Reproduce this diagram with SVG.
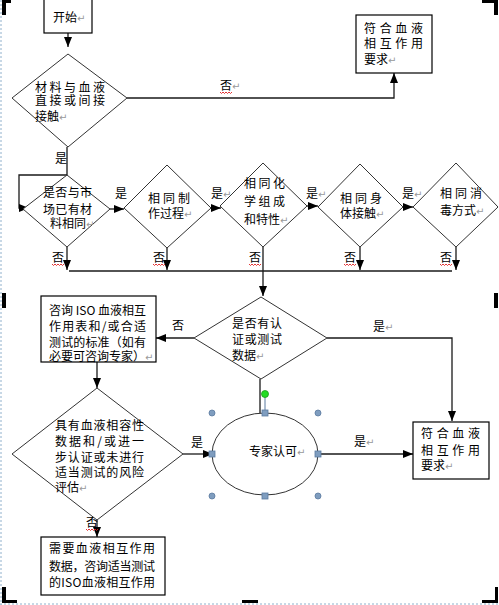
<svg xmlns="http://www.w3.org/2000/svg" width="499" height="605" viewBox="0 0 499 605">
<style>
text{font-family:"Noto Sans CJK SC","Noto Sans",sans-serif;font-size:12px;fill:#000}
.r{fill:#999;font-size:10px;font-family:"DejaVu Sans",sans-serif}
.shape{fill:#fff;stroke:#333;stroke-width:1}
.box{fill:#fff;stroke:#000;stroke-width:1.2}
.ln{fill:none;stroke:#1a1a1a;stroke-width:1.3}
.wave{fill:none;stroke:#e02020;stroke-width:0.9}
.hc{fill:#7f9dbf;stroke:#5a7aa0;stroke-width:0.8}
.mk{fill:#000}
</style>
<defs>
<marker id="ah" markerUnits="userSpaceOnUse" markerWidth="10" markerHeight="10" viewBox="0 0 10 10" refX="10" refY="5" orient="auto">
<path d="M0,1 L10,5 L0,9 Z" fill="#000"/>
</marker>
</defs>
<rect width="499" height="605" fill="#fff"/>
<!-- page marks -->
<g id="page">
<line x1="1" y1="0" x2="1" y2="605" stroke="#8fb0cc" stroke-width="1" stroke-dasharray="2,2"/>
<line x1="0" y1="604" x2="499" y2="604" stroke="#8fb0cc" stroke-width="1" stroke-dasharray="2,2"/>
<rect class="mk" x="2" y="0" width="9" height="3"/><rect class="mk" x="2" y="0" width="4" height="15"/>
<rect class="mk" x="482" y="0" width="16" height="3"/><rect class="mk" x="494" y="0" width="4" height="15"/>
<rect class="mk" x="2" y="293" width="4" height="15"/><rect class="mk" x="494" y="293" width="4" height="15"/>
<rect class="mk" x="2" y="587" width="4" height="16"/><rect class="mk" x="2" y="600" width="15" height="3"/>
<rect class="mk" x="495" y="587" width="3" height="16"/><rect class="mk" x="482" y="600" width="16" height="3"/>
<rect class="mk" x="242" y="600" width="16" height="3"/>
</g>
<!-- connectors -->
<g id="connectors">
<path class="ln" d="M68,33 V47" marker-end="url(#ah)"/>
<path class="ln" d="M127,98 H394 V73" marker-end="url(#ah)"/>
<path class="ln" d="M67,147 V175 H19 V208 H29" marker-end="url(#ah)"/>
<path class="ln" d="M110,209 H124" marker-end="url(#ah)"/>
<path class="ln" d="M211,208 H221" marker-end="url(#ah)"/>
<path class="ln" d="M307,206 H318" marker-end="url(#ah)"/>
<path class="ln" d="M403,207 H413" marker-end="url(#ah)"/>
<path class="ln" d="M67,247 V270" marker-end="url(#ah)"/>
<path class="ln" d="M167,248 V270" marker-end="url(#ah)"/>
<path class="ln" d="M360,247 V270" marker-end="url(#ah)"/>
<path class="ln" d="M456,247 V270" marker-end="url(#ah)"/>
<path class="ln" d="M69,271 H452"/>
<path class="ln" d="M263,247 V296" marker-end="url(#ah)"/>
<path class="ln" d="M194,338 H156" marker-end="url(#ah)"/>
<path class="ln" d="M327,338 H452 V421" marker-end="url(#ah)"/>
<path class="ln" d="M260,379 V413"/>
<path class="ln" d="M97,362 V388" marker-end="url(#ah)"/>
<path class="ln" d="M183,454 H213" marker-end="url(#ah)"/>
<path class="ln" d="M97,520 V537" marker-end="url(#ah)"/>
<path class="ln" d="M318,454 H413" marker-end="url(#ah)"/>
</g>
<!-- labels on connectors -->
<g id="labels">
<text x="220" y="89.5">否<tspan class="r">↵</tspan></text>
<path class="wave" d="M220,92 l1.5,1.5 l1.5,-1.5 l1.5,1.5 l1.5,-1.5 l1.5,1.5 l1.5,-1.5 l1.5,1.5 l1.5,-1.5"/>
<text x="55" y="162.5">是</text>
<text x="115" y="197.5">是</text>
<text x="211" y="197.5">是<tspan class="r">↵</tspan></text>
<text x="306" y="197.5">是<tspan class="r">↵</tspan></text>
<text x="402" y="197.5">是<tspan class="r">↵</tspan></text>
<text x="52" y="261.5">否</text>
<text x="153" y="261.5">否</text>
<text x="249" y="261.5">否</text>
<text x="344" y="261.5">否</text>
<text x="440" y="261.5">否</text>
<path class="wave" d="M52,264 l1.5,1.5 l1.5,-1.5 l1.5,1.5 l1.5,-1.5 l1.5,1.5 l1.5,-1.5 l1.5,1.5 l1.5,-1.5"/>
<path class="wave" d="M153,264 l1.5,1.5 l1.5,-1.5 l1.5,1.5 l1.5,-1.5 l1.5,1.5 l1.5,-1.5 l1.5,1.5 l1.5,-1.5"/>
<path class="wave" d="M249,264 l1.5,1.5 l1.5,-1.5 l1.5,1.5 l1.5,-1.5 l1.5,1.5 l1.5,-1.5 l1.5,1.5 l1.5,-1.5"/>
<path class="wave" d="M344,264 l1.5,1.5 l1.5,-1.5 l1.5,1.5 l1.5,-1.5 l1.5,1.5 l1.5,-1.5 l1.5,1.5 l1.5,-1.5"/>
<path class="wave" d="M440,264 l1.5,1.5 l1.5,-1.5 l1.5,1.5 l1.5,-1.5 l1.5,1.5 l1.5,-1.5 l1.5,1.5 l1.5,-1.5"/>
<text x="172" y="329.5">否</text>
<text x="373" y="330.5">是<tspan class="r">↵</tspan></text>
<text x="191" y="446.5">是</text>
<text x="354" y="445.5">是<tspan class="r">↵</tspan></text>
<text x="86" y="526.5">否</text>
<path class="wave" d="M86,529 l1.5,1.5 l1.5,-1.5 l1.5,1.5 l1.5,-1.5 l1.5,1.5 l1.5,-1.5 l1.5,1.5 l1.5,-1.5"/>
</g>
<!-- nodes -->
<g id="start">
<rect class="box" x="44" y="-1" width="48" height="34"/>
<text x="53" y="22">开始<tspan class="r">↵</tspan></text>
</g>
<g id="d1">
<polygon class="shape" points="68,54 127,98 68,147 12,98"/>
<text x="35" y="91.5" textLength="70" lengthAdjust="spacing">材料与血液</text>
<text x="35" y="105" textLength="70" lengthAdjust="spacing">直接或间接</text>
<text x="35" y="120.5">接触<tspan class="r">↵</tspan></text>
</g>
<g id="ok1">
<rect class="box" x="356" y="15" width="76" height="58"/>
<text x="364" y="32.5" textLength="59" lengthAdjust="spacing">符合血液</text>
<text x="364" y="47.5" textLength="59" lengthAdjust="spacing">相互作用</text>
<text x="364" y="63.5">要求<tspan class="r">↵</tspan></text>
</g>
<g id="d2">
<polygon class="shape" points="67,175 110,209 67,247 23,209"/>
<text x="43" y="196.5" textLength="49" lengthAdjust="spacing">是否与市</text>
<text x="43" y="213.5" textLength="49" lengthAdjust="spacing">场已有材</text>
<text x="50" y="227.5">料相同<tspan class="r">↵</tspan></text>
</g>
<g id="d3">
<polygon class="shape" points="167,165 211,208 167,248 124,208"/>
<text x="148" y="202.5" textLength="42" lengthAdjust="spacing">相同制</text>
<text x="148" y="217.5">作过程<tspan class="r">↵</tspan></text>
</g>
<g id="d4">
<polygon class="shape" points="263,163 307,206 263,247 220,206"/>
<text x="244" y="187.5" textLength="41" lengthAdjust="spacing">相同化</text>
<text x="244" y="205.5" textLength="41" lengthAdjust="spacing">学组成</text>
<text x="244" y="224">和特性<tspan class="r">↵</tspan></text>
</g>
<g id="d5">
<polygon class="shape" points="360,164 403,207 360,247 318,207"/>
<text x="340" y="202.5" textLength="42" lengthAdjust="spacing">相同身</text>
<text x="340" y="217.5">体接触<tspan class="r">↵</tspan></text>
</g>
<g id="d6">
<polygon class="shape" points="456,163 498,207 456,247 413,207"/>
<text x="440" y="197.5" textLength="42" lengthAdjust="spacing">相同消</text>
<text x="440" y="214.5">毒方式<tspan class="r">↵</tspan></text>
</g>
<g id="d7">
<polygon class="shape" points="261,297 327,338 261,379 194,338"/>
<text x="232" y="327.5" textLength="50" lengthAdjust="spacing">是否有认</text>
<text x="232" y="343.5" textLength="50" lengthAdjust="spacing">证或测试</text>
<text x="232" y="359.5">数据<tspan class="r">↵</tspan></text>
</g>
<g id="iso">
<rect class="box" x="41" y="296" width="115" height="66"/>
<text x="49" y="314.5" textLength="97" lengthAdjust="spacing">咨询 ISO 血液相互</text>
<text x="49" y="331" textLength="97" lengthAdjust="spacing">作用表和/或合适</text>
<text x="49" y="346.5" textLength="97" lengthAdjust="spacing">测试的标准（如有</text>
<text x="49" y="361">必要可咨询专家）<tspan class="r">↵</tspan></text>
</g>
<g id="d8">
<polygon class="shape" points="97,388 183,454 97,520 12,454"/>
<text x="55" y="429.5" textLength="89" lengthAdjust="spacing">具有血液相容性</text>
<text x="55" y="445.5" textLength="89" lengthAdjust="spacing">数据和/或进一</text>
<text x="55" y="461.5" textLength="89" lengthAdjust="spacing">步认证或未进行</text>
<text x="55" y="476.5" textLength="89" lengthAdjust="spacing">适当测试的风险</text>
<text x="55" y="491.5">评估<tspan class="r">↵</tspan></text>
</g>
<g id="need">
<rect class="box" x="41" y="537" width="124" height="58"/>
<text x="49" y="552.5" textLength="106" lengthAdjust="spacing">需要血液相互作用</text>
<text x="49" y="570.5" textLength="106" lengthAdjust="spacing">数据，咨询适当测试</text>
<text x="49" y="586.5" textLength="106" lengthAdjust="spacing">的ISO血液相互作用</text>
</g>
<g id="expert">
<ellipse class="shape" cx="265" cy="454" rx="53" ry="41"/>
<text x="249" y="455.5">专家认可<tspan class="r">↵</tspan></text>
<line x1="265" y1="394" x2="265" y2="413" stroke="#5a7aa0" stroke-width="1"/>
<circle cx="265" cy="394" r="3.5" fill="#22dd22" stroke="#1a9a1a" stroke-width="0.8"/>
<circle class="hc" cx="212" cy="413" r="3"/>
<circle class="hc" cx="318" cy="413" r="3"/>
<circle class="hc" cx="212" cy="496" r="3"/>
<circle class="hc" cx="318" cy="496" r="3"/>
<rect class="hc" x="262" y="410" width="6" height="6"/>
<rect class="hc" x="262" y="493" width="6" height="6"/>
<rect class="hc" x="209" y="451" width="6" height="6"/>
<rect class="hc" x="315" y="451" width="6" height="6"/>
</g>
<g id="ok2">
<rect class="box" x="413" y="422" width="76" height="57"/>
<text x="421" y="437.5" textLength="59" lengthAdjust="spacing">符合血液</text>
<text x="421" y="454.5" textLength="59" lengthAdjust="spacing">相互作用</text>
<text x="421" y="469.5">要求<tspan class="r">↵</tspan></text>
</g>
</svg>
